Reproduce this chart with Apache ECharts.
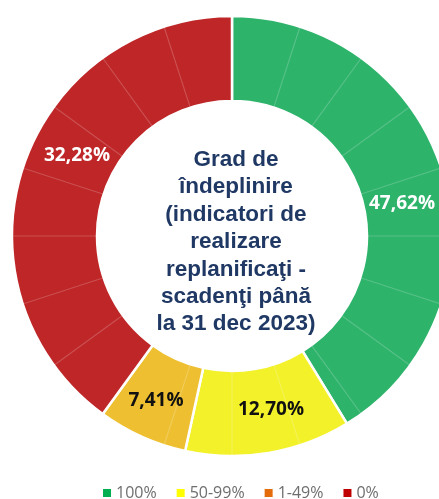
<!DOCTYPE html>
<html>
<head>
<meta charset="utf-8">
<script src="https://cdn.jsdelivr.net/npm/echarts@6/dist/echarts.min.js"></script>
<style>
  html, body { margin:0; padding:0; background:#fff; }
  #chart { width:439px; height:499px; }
</style>
</head>
<body>
<div id="chart"></div>
<script>
  // categorii si valori (cota din inel, citite de pe desen)
  var categories = ['100%', '50-99%', '1-49%', '0%'];
  var shares = [41.25, 12.17, 6.58, 40.0];
  var labelTexts = ['47,62%', '12,70%', '7,41%', '32,28%'];
  // inelul de fundal cu 20 de diviziuni egale
  var gridParts = [1,1,1,1,1,1,1,1,1,1,1,1,1,1,1,1,1,1,1,1];

  var sliceColors = ['#2eb36b', '#f3f12a', '#eec031', '#bf2628'];
  var legendColors = ['#00b050', '#ffff00', '#e46c0a', '#c00000'];
  var labelColors = ['#ffffff', '#111111', '#111111', '#ffffff'];
  var labelPos = [[402, 204], [271, 410], [156, 401], [77, 156]];

  var chartContainer = document.getElementById('chart'),
    chart = echarts.init(chartContainer);

  var mainData = [];
  for (var i = 0; i < categories.length; i++) {
    mainData.push({
      value: shares[i],
      name: categories[i],
      itemStyle: { color: sliceColors[i] }
    });
  }

  var labelEls = [];
  for (var k = 0; k < labelTexts.length; k++) {
    labelEls.push({
      type: 'text',
      silent: true,
      z: 100,
      style: {
        text: labelTexts[k],
        x: labelPos[k][0],
        y: labelPos[k][1],
        align: 'center',
        verticalAlign: 'middle',
        font: 'bold 19px "Open Sans"',
        fill: labelColors[k]
      }
    });
  }

  var option = {
    animation: false,
    legend: {
      left: 101,
      top: 485,
      padding: 0,
      itemWidth: 10,
      itemHeight: 10,
      itemGap: 18,
      icon: 'rect',
      textStyle: { color: '#6e6e6e', fontSize: 16, fontFamily: 'Open Sans', padding: [0, 0, 0, -1] },
      data: categories.map(function(c, i) {
        return { name: c, icon: 'rect', itemStyle: { color: legendColors[i] } };
      })
    },
    graphic: labelEls.concat([{
      type: 'text',
      silent: true,
      z: 100,
      style: {
        text: 'Grad de\nîndeplinire\n(indicatori de\nrealizare\nreplanificaţi -\nscadenţi până\nla 31 dec 2023)',
        x: 236,
        y: 242,
        align: 'center',
        verticalAlign: 'middle',
        font: 'bold 22.5px "Liberation Sans"',
        lineHeight: 27.4,
        fill: '#1f3864'
      }
    }]),
    series: [
      {
        name: 'Grad',
        type: 'pie',
        center: [232, 236],
        radius: [135, 220],
        startAngle: 90,
        clockwise: true,
        label: { show: false },
        labelLine: { show: false },
        emphasis: { disabled: true },
        itemStyle: { borderColor: '#ffffff', borderWidth: 2.5 },
        data: mainData
      },
      {
        name: 'grid',
        type: 'pie',
        silent: true,
        center: [232, 236],
        radius: [135, 220],
        startAngle: 90,
        clockwise: true,
        label: { show: false },
        labelLine: { show: false },
        emphasis: { disabled: true },
        itemStyle: { color: 'rgba(0,0,0,0)', borderColor: 'rgba(255,255,255,0.1)', borderWidth: 1.2 },
        data: gridParts.map(function(v) { return { value: v, name: '' }; })
      }
    ]
  };
  chart.setOption(option);
</script>
</body>
</html>
